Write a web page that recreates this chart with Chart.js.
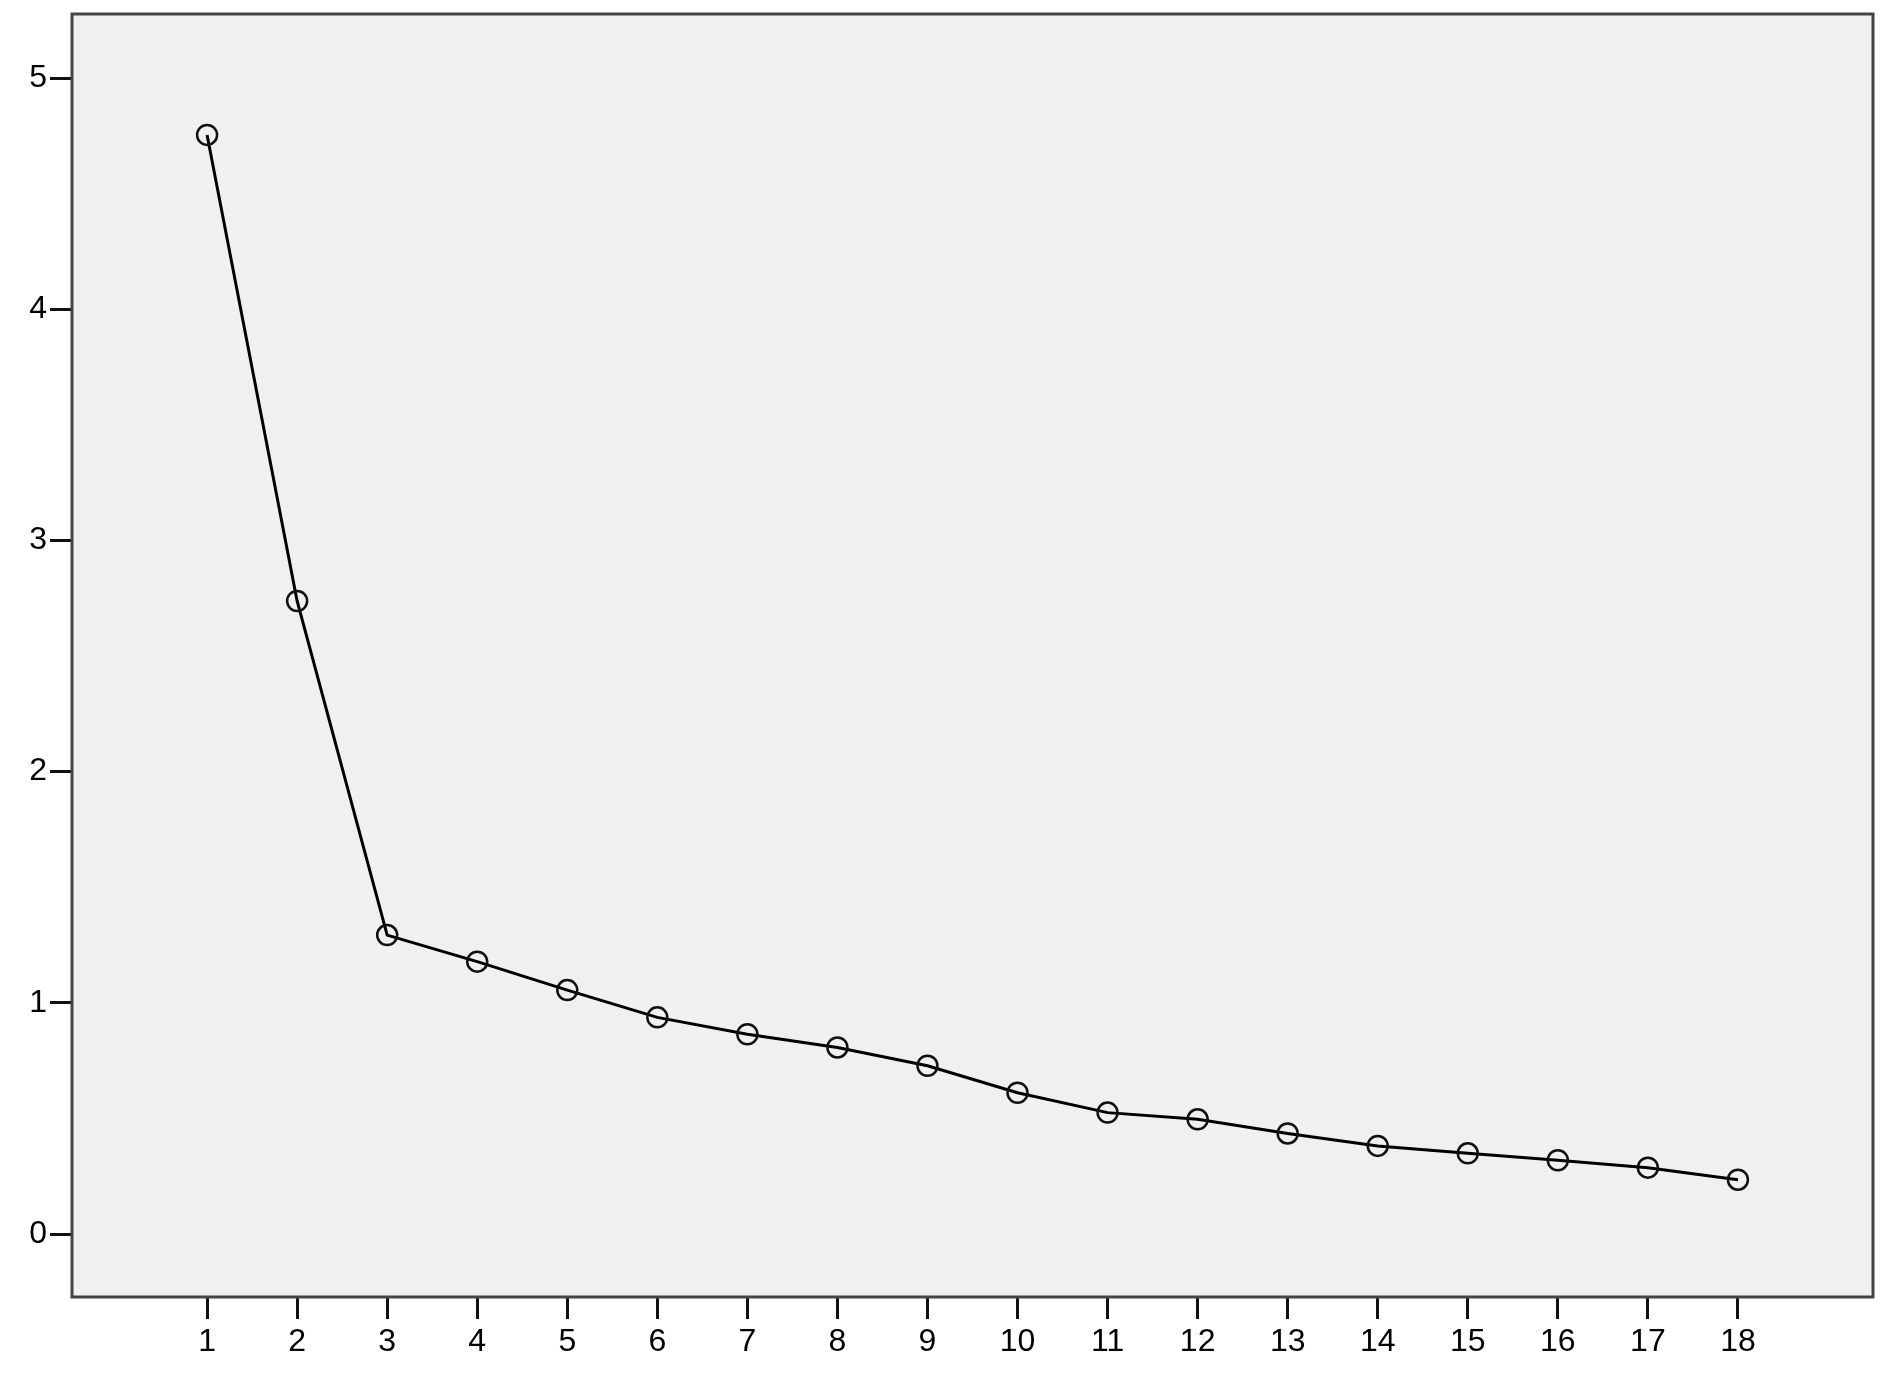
<!DOCTYPE html>
<html><head><meta charset="utf-8">
<script src="https://cdn.jsdelivr.net/npm/chart.js@4/dist/chart.umd.min.js"></script>
<style>html,body{margin:0;padding:0;background:#fff;}#wrap{width:1891px;height:1386px;}</style>
</head><body><div id="wrap"><canvas id="c" width="1891" height="1386"></canvas></div>
<script>
const componentNumbers = [1,2,3,4,5,6,7,8,9,10,11,12,13,14,15,16,17,18];
const eigenvalues = [4.754,2.738,1.293,1.178,1.055,0.937,0.864,0.807,0.728,0.611,0.525,0.496,0.435,0.381,0.349,0.319,0.287,0.235];
const xTickValues = [1,2,3,4,5,6,7,8,9,10,11,12,13,14,15,16,17,18];
const yTickValues = [0,1,2,3,4,5];
const xRange = [-0.5, 19.5];
const yRange = [-0.2725, 5.277];

const points = componentNumbers.map((c, i) => ({x: c, y: eigenvalues[i]}));

const framePlugin = {
  id: 'frame',
  beforeDraw(chart) {
    const {ctx, chartArea: a} = chart;
    ctx.save();
    ctx.fillStyle = '#f0f0f0';
    ctx.fillRect(a.left, a.top, a.right - a.left, a.bottom - a.top);
    ctx.restore();
  },
  afterDraw(chart) {
    const {ctx, chartArea: a} = chart;
    ctx.save();
    ctx.strokeStyle = '#444444';
    ctx.lineWidth = 3;
    ctx.strokeRect(a.left, a.top, a.right - a.left, a.bottom - a.top);
    ctx.restore();
  }
};

const tickFont = {family: '"Liberation Sans", Arial, sans-serif', size: 32};

new Chart(document.getElementById('c'), {
  type: 'line',
  data: {
    datasets: [{
      data: points,
      borderColor: '#000',
      borderWidth: 3,
      pointRadius: 10,
      pointBorderWidth: 2.5,
      pointBorderColor: '#111',
      pointBackgroundColor: 'rgba(0,0,0,0)',
      tension: 0,
      fill: false
    }]
  },
  options: {
    responsive: false,
    animation: false,
    devicePixelRatio: 1,
    layout: {padding: {left: 0, top: 14, right: 18, bottom: 0}},
    plugins: {legend: {display: false}, tooltip: {enabled: false}},
    scales: {
      x: {
        type: 'linear',
        min: xRange[0], max: xRange[1],
        afterBuildTicks(s) { s.ticks = xTickValues.map(v => ({value: v})); },
        afterFit(s) { s.height = 89; s.paddingLeft = 0; s.paddingRight = 0; },
        border: {display: false},
        grid: {display: true, drawOnChartArea: false, drawTicks: true, tickLength: 22, tickWidth: 3, tickColor: '#111'},
        ticks: {color: '#000', font: tickFont, padding: 4, maxRotation: 0, autoSkip: false,
          callback: v => String(v)}
      },
      y: {
        type: 'linear',
        min: yRange[0], max: yRange[1],
        afterBuildTicks(s) { s.ticks = yTickValues.map(v => ({value: v})); },
        afterFit(s) { s.width = 72; s.paddingTop = 0; s.paddingBottom = 0; },
        border: {display: false},
        grid: {display: true, drawOnChartArea: false, drawTicks: true, tickLength: 22, tickWidth: 3, tickColor: '#111'},
        ticks: {color: '#000', font: tickFont, padding: 3, autoSkip: false,
          callback: v => String(v)}
      }
    }
  },
  plugins: [framePlugin]
});
</script></body></html>
